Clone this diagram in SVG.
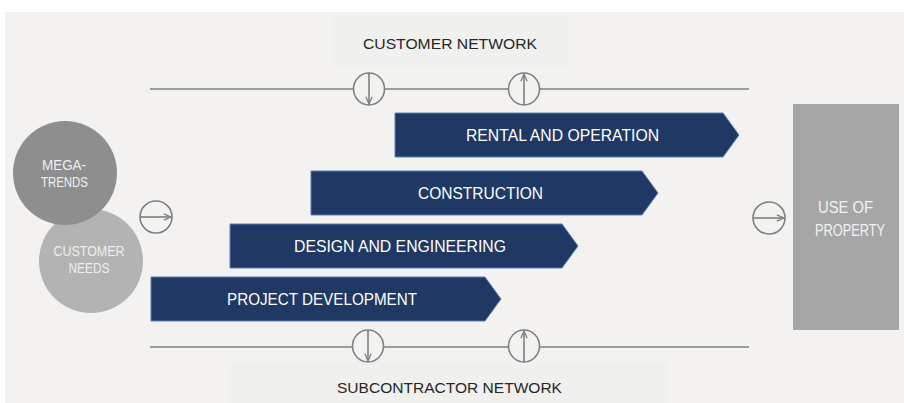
<svg xmlns="http://www.w3.org/2000/svg" width="904" height="403" viewBox="0 0 904 403">
<defs>
<style>
.bg{fill:#f3f2f0}
.lbl{fill:#f0f0ef}
.line{stroke:#7f7f7f;stroke-width:1.6;fill:none}
.ring{stroke:#7f7f7f;stroke-width:1.6;fill:#f3f2f0}
.bar{fill:#203864;stroke:#5a7fbd;stroke-width:1}
.bt{font-family:"Liberation Sans",Arial,sans-serif;font-size:16px;fill:#ffffff;text-anchor:middle}
.nt{font-family:"Liberation Sans",Arial,sans-serif;font-size:15.5px;fill:#262626;text-anchor:middle}
.ct{font-family:"Liberation Sans",Arial,sans-serif;font-size:14px;fill:#eeeeee;text-anchor:middle}
.ut{font-family:"Liberation Sans",Arial,sans-serif;font-size:16px;fill:#f2f2f2;text-anchor:middle}
</style>
<marker id="ah" viewBox="0 0 10 10" refX="9" refY="5" markerWidth="9" markerHeight="9" orient="auto" markerUnits="userSpaceOnUse">
<path d="M1,1.5 L9,5 L1,8.5" fill="none" stroke="#7f7f7f" stroke-width="1.4"/>
</marker>
</defs>
<rect x="0" y="0" width="904" height="403" fill="#ffffff"/>
<rect class="bg" x="5" y="12" width="899" height="391"/>
<rect class="lbl" x="333" y="17" width="234" height="51"/>
<rect class="lbl" x="230" y="362" width="438" height="41"/>

<g id="customer-network-label"><text class="nt" x="450" y="49" textLength="174" lengthAdjust="spacingAndGlyphs">CUSTOMER NETWORK</text></g>
<g id="subcontractor-network-label"><text class="nt" x="449.5" y="393" textLength="225" lengthAdjust="spacingAndGlyphs">SUBCONTRACTOR NETWORK</text></g>

<g id="connectors">
<line class="line" x1="150" y1="89" x2="749" y2="89"/>
<line class="line" x1="150" y1="347" x2="749" y2="347"/>
<ellipse class="ring" cx="369" cy="89" rx="15.5" ry="16"/>
<line class="line" x1="369" y1="73" x2="369" y2="104" marker-end="url(#ah)"/>
<ellipse class="ring" cx="524" cy="89" rx="15.5" ry="16"/>
<line class="line" x1="524" y1="105" x2="524" y2="74" marker-end="url(#ah)"/>
<ellipse class="ring" cx="368" cy="346" rx="15.5" ry="16"/>
<line class="line" x1="368" y1="330" x2="368" y2="361" marker-end="url(#ah)"/>
<ellipse class="ring" cx="524" cy="346" rx="15.5" ry="16"/>
<line class="line" x1="524" y1="362" x2="524" y2="331" marker-end="url(#ah)"/>
<circle class="ring" cx="156" cy="217" r="16"/>
<line class="line" x1="140" y1="217" x2="171" y2="217" marker-end="url(#ah)"/>
<circle class="ring" cx="769" cy="218" r="16"/>
<line class="line" x1="753" y1="218" x2="784" y2="218" marker-end="url(#ah)"/>
</g>

<g id="customer-needs">
<circle cx="91" cy="261" r="52" fill="#b3b3b3"/>
<text class="ct" x="89" y="256" textLength="71" lengthAdjust="spacingAndGlyphs">CUSTOMER</text>
<text class="ct" x="89" y="273" textLength="41" lengthAdjust="spacingAndGlyphs">NEEDS</text>
</g>
<g id="megatrends">
<circle cx="65" cy="173" r="52" fill="#8e8e8e"/>
<text class="ct" x="64" y="170" textLength="44" lengthAdjust="spacingAndGlyphs">MEGA-</text>
<text class="ct" x="64.5" y="187" textLength="47" lengthAdjust="spacingAndGlyphs">TRENDS</text>
</g>

<g id="rental-and-operation">
<path class="bar" d="M395,113 L723,113 L739,135 L723,157 L395,157 Z"/>
<text class="bt" x="562.5" y="141" textLength="193" lengthAdjust="spacingAndGlyphs">RENTAL AND OPERATION</text>
</g>
<g id="construction">
<path class="bar" d="M311,171 L642,171 L658,193 L642,215 L311,215 Z"/>
<text class="bt" x="480.5" y="199" textLength="125" lengthAdjust="spacingAndGlyphs">CONSTRUCTION</text>
</g>
<g id="design-and-engineering">
<path class="bar" d="M230,224 L562,224 L578,246 L562,268 L230,268 Z"/>
<text class="bt" x="400" y="252" textLength="212" lengthAdjust="spacingAndGlyphs">DESIGN AND ENGINEERING</text>
</g>
<g id="project-development">
<path class="bar" d="M151,277 L485,277 L501,299 L485,321 L151,321 Z"/>
<text class="bt" x="322" y="305" textLength="190" lengthAdjust="spacingAndGlyphs">PROJECT DEVELOPMENT</text>
</g>

<g id="use-of-property">
<rect x="793" y="104" width="106" height="226" fill="#a6a6a6"/>
<text class="ut" x="845.5" y="213" textLength="55" lengthAdjust="spacingAndGlyphs">USE OF</text>
<text class="ut" x="850" y="236" textLength="70" lengthAdjust="spacingAndGlyphs">PROPERTY</text>
</g>
</svg>
